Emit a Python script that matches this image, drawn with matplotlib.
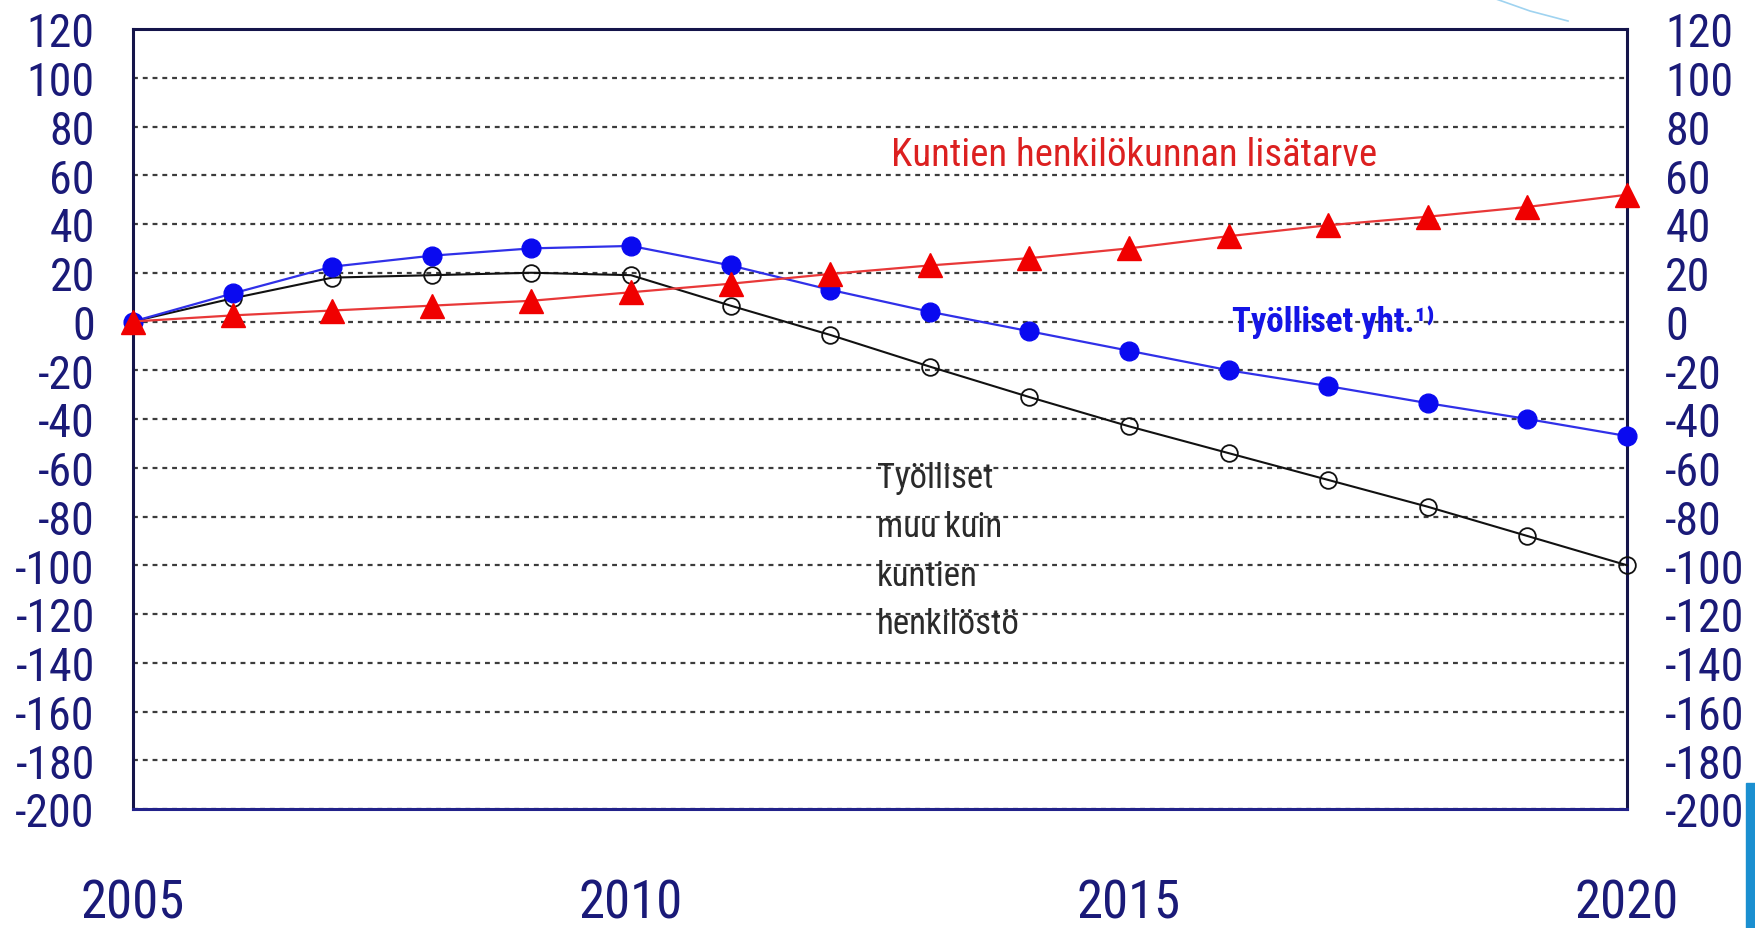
import matplotlib
matplotlib.use("Agg")
import matplotlib.pyplot as plt
from matplotlib.patches import Rectangle
from matplotlib.lines import Line2D

# Employment change vs. municipal staffing need, 2005-2020 (thousands)
years = list(range(2005, 2021))
lisatarve = [0, 2.5, 4.5, 6.5, 8.5, 12, 15.5, 19.5, 23, 26, 30, 35, 39.5, 43, 47, 52]
tyolliset_yht = [0, 11.5, 22.5, 27, 30, 31, 23, 13, 4, -4, -12, -20, -26.5, -33.5, -40, -47]
tyolliset_muu = [0, 9.5, 18, 19, 20, 19, 6.5, -5.5, -18.5, -31, -43, -54, -65, -76, -88, -100]

y_ticks = list(range(-200, 121, 20))
x_ticks = [2005, 2010, 2015, 2020]

label_red = "Kuntien henkilökunnan lisätarve"
label_blue = "Työlliset yht.¹⁾"
label_black = ["Työlliset", "muu kuin", "kuntien", "henkilöstö"]

FONT = ["Roboto Condensed", "DejaVu Sans"]
NAVY = "#1a1a78"
plt.rcParams["font.family"] = FONT
plt.rcParams["axes.unicode_minus"] = False

fig = plt.figure(figsize=(17.56, 9.29), dpi=100)
ax = fig.add_axes([133 / 1756, 1 - 810 / 929, (1627 - 133) / 1756, (810 - 30) / 929])

ax.set_xlim(2005, 2020)
ax.set_ylim(-200, 120)
ax.set_yticks(y_ticks)
ax.set_xticks(x_ticks)

# dotted horizontal grid
ax.set_axisbelow(True)
ax.yaxis.grid(True, linestyle=(0, (2.2, 2.2)), color="#3c3c3c", lw=1.6)

ax.plot(years, tyolliset_muu, color="#111111", lw=1.5, marker="o", ms=12,
        mfc="none", mec="#111111", mew=1.3, clip_on=False, zorder=3)
ax.plot(years, tyolliset_yht, color="#3030e8", lw=1.6, marker="o", ms=13.5,
        mfc="#0a0af0", mec="#0a0af0", clip_on=False, zorder=4)
ax.plot(years, lisatarve, color="#e83838", lw=1.6, marker="^", ms=17,
        mfc="#f00000", mec="#f00000", clip_on=False, zorder=5)

ax.tick_params(axis="y", left=False, right=False, labelleft=True, labelright=True,
               labelsize=33, labelcolor=NAVY, pad=24)
ax.tick_params(axis="x", bottom=False, labelsize=38, labelcolor=NAVY, pad=46)

for side in ("left", "right", "top", "bottom"):
    ax.spines[side].set_color("#14144a")
    ax.spines[side].set_linewidth(2.2)
ax.spines["bottom"].set_color("#22228a")

ax.text(2012.61, 64, label_red, color="#dc2020", fontsize=28, va="baseline", ha="left")
ax.text(2016.03, -4, label_blue, color="#1414e6", fontsize=25, fontweight="bold",
        va="baseline", ha="left")
for i, line in enumerate(label_black):
    ax.text(2012.47, -68 - 20 * i, line, color="#2a2a2a", fontsize=25,
            va="baseline", ha="left")

# slide decorations: blue bar at the right edge, faint arc at the top
fig.patches.append(Rectangle((1746 / 1756, 0), 10 / 1756, 145 / 929,
                             transform=fig.transFigure, color="#1b8fd0"))
fig.lines.append(Line2D([1496 / 1756, 1530 / 1756, 1568 / 1756],
                        [1.0, 1 - 12 / 929, 1 - 22 / 929],
                        transform=fig.transFigure, color="#9fd3f0", lw=1.2))

fig.savefig("out.png", dpi=100)
